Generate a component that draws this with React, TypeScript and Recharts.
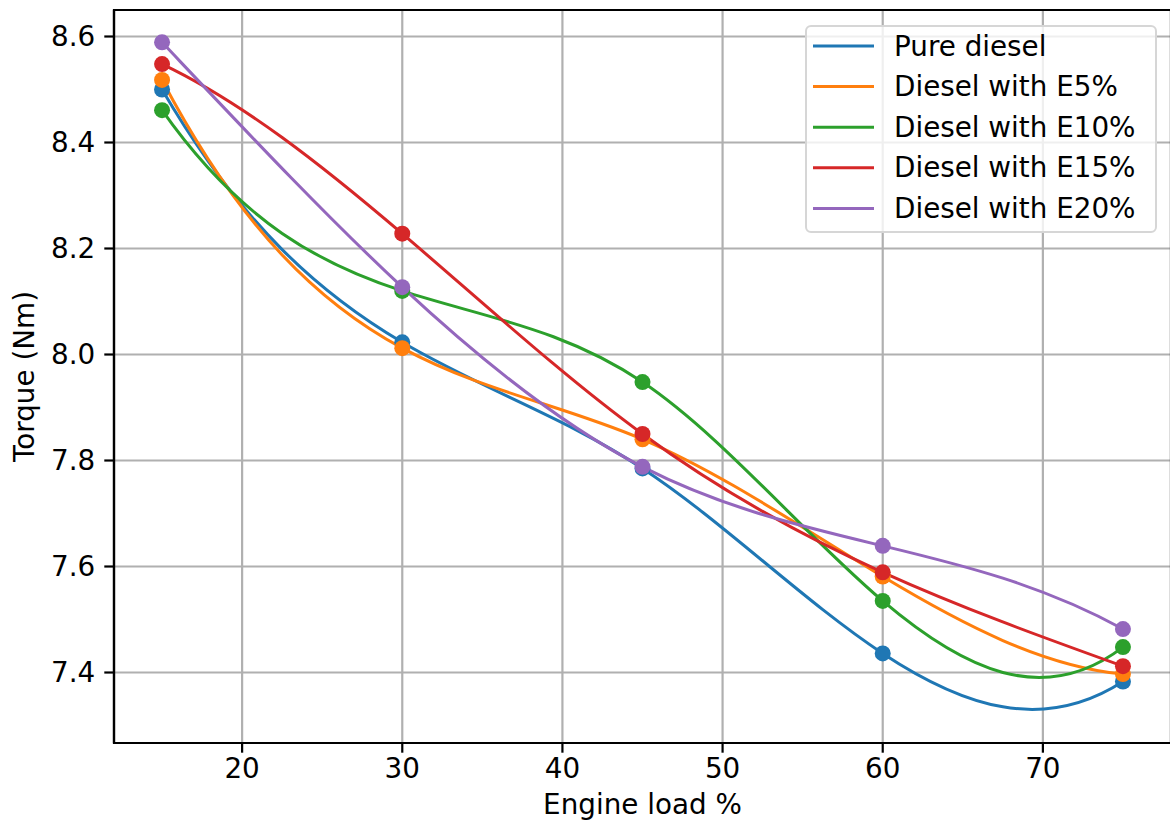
import React from "react";
import {
  ComposedChart,
  Line,
  XAxis,
  YAxis,
  CartesianGrid,
  Label,
  ReferenceArea,
} from "recharts";

// Engine load (%) at which torque was measured
const loads = [15, 30, 45, 60, 75];

// Torque (Nm) per fuel blend
const pureDiesel = [8.5, 8.023, 7.785, 7.436, 7.383];
const dieselE5 = [8.518, 8.012, 7.84, 7.581, 7.397];
const dieselE10 = [8.461, 8.12, 7.948, 7.535, 7.448];
const dieselE15 = [8.548, 8.228, 7.85, 7.589, 7.412];
const dieselE20 = [8.589, 8.127, 7.788, 7.639, 7.482];

const seriesKeys = ["pure", "e5", "e10", "e15", "e20"];
const seriesNames = [
  "Pure diesel",
  "Diesel with E5%",
  "Diesel with E10%",
  "Diesel with E15%",
  "Diesel with E20%",
];
const seriesColors = ["#1f77b4", "#ff7f0e", "#2ca02c", "#d62728", "#9467bd"];
const seriesValues = [pureDiesel, dieselE5, dieselE10, dieselE15, dieselE20];

const xTicks = [20, 30, 40, 50, 60, 70];
const yTicks = [7.4, 7.6, 7.8, 8.0, 8.2, 8.4, 8.6];
const xDomain: [number, number] = [12, 78];
const yDomain: [number, number] = [7.267, 8.65];

const rows = loads.map((load, i) => {
  const row: Record<string, number> = { load };
  seriesKeys.forEach((k, s) => {
    row[k] = seriesValues[s][i];
  });
  return row;
});

const FONT = "DejaVu Sans";
const FS = 27.8;

// Slopes of a not-a-knot cubic spline through (x, y)
function splineSlopes(x: number[], y: number[]): number[] {
  const n = x.length;
  const h: number[] = [];
  const d: number[] = [];
  for (let i = 0; i < n - 1; i++) {
    h[i] = x[i + 1] - x[i];
    d[i] = (y[i + 1] - y[i]) / h[i];
  }
  const A = Array.from({ length: n }, () => new Array(n).fill(0));
  const b = new Array(n).fill(0);
  for (let i = 1; i < n - 1; i++) {
    A[i][i - 1] = h[i];
    A[i][i] = 2 * (h[i - 1] + h[i]);
    A[i][i + 1] = h[i - 1];
    b[i] = 3 * (h[i] * d[i - 1] + h[i - 1] * d[i]);
  }
  const s0 = h[0] + h[1];
  A[0][0] = h[1];
  A[0][1] = s0;
  b[0] = ((h[0] + 2 * s0) * h[1] * d[0] + h[0] * h[0] * d[1]) / s0;
  const k = n - 1;
  const s1 = h[k - 1] + h[k - 2];
  A[k][k - 1] = s1;
  A[k][k] = h[k - 2];
  b[k] = (h[k - 1] * h[k - 1] * d[k - 2] + (2 * s1 + h[k - 1]) * h[k - 2] * d[k - 1]) / s1;

  // gaussian elimination, partial pivoting
  for (let c = 0; c < n; c++) {
    let p = c;
    for (let r = c + 1; r < n; r++) if (Math.abs(A[r][c]) > Math.abs(A[p][c])) p = r;
    [A[c], A[p]] = [A[p], A[c]];
    [b[c], b[p]] = [b[p], b[c]];
    for (let r = c + 1; r < n; r++) {
      const f = A[r][c] / A[c][c];
      for (let j = c; j < n; j++) A[r][j] -= f * A[c][j];
      b[r] -= f * b[c];
    }
  }
  const m = new Array(n).fill(0);
  for (let r = n - 1; r >= 0; r--) {
    let s = b[r];
    for (let j = r + 1; j < n; j++) s -= A[r][j] * m[j];
    m[r] = s / A[r][r];
  }
  return m;
}

// d3-style curve factory: cubic spline segments written as beziers
function curveSpline(context: any) {
  let xs: number[] = [];
  let ys: number[] = [];
  return {
    areaStart() {},
    areaEnd() {},
    lineStart() {
      xs = [];
      ys = [];
    },
    point(x: number, y: number) {
      xs.push(+x);
      ys.push(+y);
    },
    lineEnd() {
      const n = xs.length;
      if (!n) return;
      context.moveTo(xs[0], ys[0]);
      if (n < 4) {
        for (let i = 1; i < n; i++) context.lineTo(xs[i], ys[i]);
        return;
      }
      const m = splineSlopes(xs, ys);
      for (let i = 0; i < n - 1; i++) {
        const h = xs[i + 1] - xs[i];
        context.bezierCurveTo(
          xs[i] + h / 3,
          ys[i] + (m[i] * h) / 3,
          xs[i + 1] - h / 3,
          ys[i + 1] - (m[i + 1] * h) / 3,
          xs[i + 1],
          ys[i + 1],
        );
      }
    },
  };
}

const tickStyle = { fontSize: FS, fill: "#000", fontFamily: FONT };

function YTitle(props: any) {
  const vb = props.viewBox || { y: 10, height: 733 };
  const cy = vb.y + vb.height / 2;
  return (
    <text
      x={34}
      y={cy}
      transform={`rotate(-90 34 ${cy})`}
      textAnchor="middle"
      fontSize={FS}
      fontFamily={FONT}
      fill="#000"
    >
      Torque (Nm)
    </text>
  );
}

function LegendBox() {
  const rowGap = 40.6;
  return (
    <div
      style={{
        position: "absolute",
        left: 805,
        top: 25,
        width: 352,
        height: 208,
        boxSizing: "border-box",
        border: "2px solid #d6d6d6",
        borderRadius: 6,
        background: "rgba(255,255,255,0.8)",
      }}
    >
      <svg width={348} height={204} style={{ position: "absolute", left: 0, top: 0 }}>
        {seriesNames.map((name, i) => {
          const y = 19 + i * rowGap;
          return (
            <g key={name}>
              <line x1={6} x2={67} y1={y} y2={y} stroke={seriesColors[i]} strokeWidth={3} />
              <text x={87} y={y + 9.5} fontSize={FS} fontFamily={FONT} fill="#000">
                {name}
              </text>
            </g>
          );
        })}
      </svg>
    </div>
  );
}

export default function App() {
  return (
    <div
      style={{
        position: "fixed",
        left: 0,
        top: 0,
        width: 1170,
        height: 821,
        overflow: "hidden",
        background: "#fff",
      }}
    >
      <ComposedChart
        width={1177}
        height={821}
        data={rows}
        margin={{ top: 10, right: 6, bottom: 0, left: 0 }}
      >
        <CartesianGrid stroke="#b0b0b0" strokeWidth={2.2} />
        <XAxis
          dataKey="load"
          type="number"
          domain={xDomain}
          ticks={xTicks}
          allowDataOverflow
          height={78}
          tickSize={9.7}
          tickMargin={6}
          tick={tickStyle}
          axisLine={{ stroke: "#000", strokeWidth: 2.2 }}
          tickLine={{ stroke: "#000", strokeWidth: 2.2 }}
          label={{
            value: "Engine load %",
            position: "insideBottom",
            offset: 7,
            fontSize: FS,
            fontFamily: FONT,
            fill: "#000",
          }}
        />
        <YAxis
          type="number"
          domain={yDomain}
          ticks={yTicks}
          allowDataOverflow
          width={114}
          tickSize={9.7}
          tickMargin={9}
          tickFormatter={(v: number) => v.toFixed(1)}
          tick={tickStyle}
          axisLine={{ stroke: "#000", strokeWidth: 2.2 }}
          tickLine={{ stroke: "#000", strokeWidth: 2.2 }}
        >
          <Label content={YTitle} />
        </YAxis>
        {/* measured points sit underneath the fitted curves */}
        {seriesKeys.map((k, i) => (
          <Line
            key={`pts-${k}`}
            dataKey={k}
            stroke="none"
            dot={{ r: 8, fill: seriesColors[i], stroke: "none", strokeWidth: 0 }}
            activeDot={false}
            isAnimationActive={false}
          />
        ))}
        {seriesKeys.map((k, i) => (
          <Line
            key={`fit-${k}`}
            dataKey={k}
            name={seriesNames[i]}
            type={curveSpline as any}
            stroke={seriesColors[i]}
            strokeWidth={3}
            dot={false}
            activeDot={false}
            isAnimationActive={false}
          />
        ))}
        {/* closed axes frame */}
        <ReferenceArea
          x1={xDomain[0]}
          x2={xDomain[1]}
          y1={yDomain[0]}
          y2={yDomain[1]}
          fill="none"
          fillOpacity={0}
          stroke="#000"
          strokeWidth={2.2}
          ifOverflow="visible"
        />
      </ComposedChart>
      <LegendBox />
    </div>
  );
}
